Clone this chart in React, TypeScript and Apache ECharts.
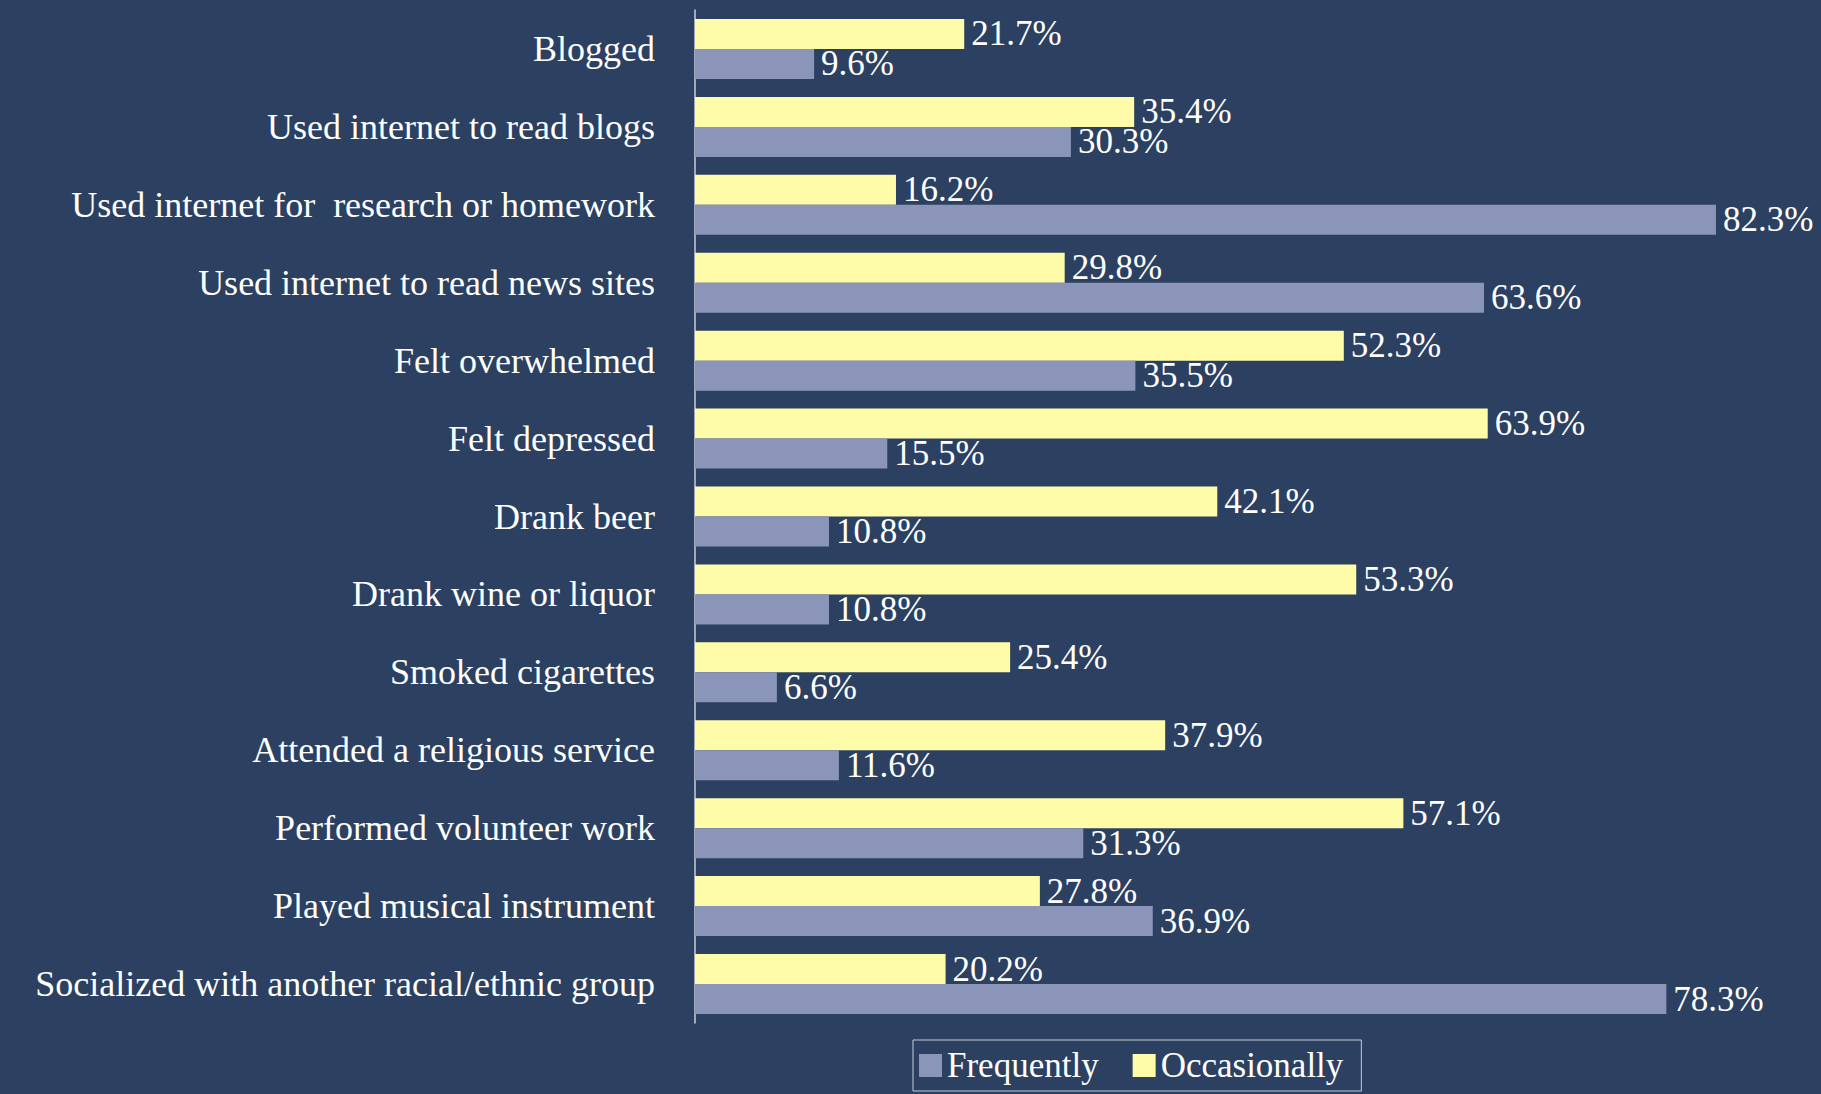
import React, { useEffect, useRef } from "react";
import * as echarts from "echarts";

const categories = [
  "Blogged",
  "Used internet to read blogs",
  "Used internet for  research or homework",
  "Used internet to read news sites",
  "Felt overwhelmed",
  "Felt depressed",
  "Drank beer",
  "Drank wine or liquor",
  "Smoked cigarettes",
  "Attended a religious service",
  "Performed volunteer work",
  "Played musical instrument",
  "Socialized with another racial/ethnic group",
];

const frequently = [9.6, 30.3, 82.3, 63.6, 35.5, 15.5, 10.8, 10.8, 6.6, 11.6, 31.3, 36.9, 78.3];
const occasionally = [21.7, 35.4, 16.2, 29.8, 52.3, 63.9, 42.1, 53.3, 25.4, 37.9, 57.1, 27.8, 20.2];

const seriesNames = ["Frequently", "Occasionally"];

const BG = "#2C4161";
const YELLOW = "#FFFCA9";
const BLUE = "#8A95B9";
const FONT = "'Liberation Serif', 'Times New Roman', serif";

export default function App() {
  const ref = useRef<HTMLDivElement>(null);

  useEffect(() => {
    document.body.style.margin = "0";
    document.body.style.background = BG;
    if (!ref.current) return;
    const chart = echarts.init(ref.current, undefined, { renderer: "svg" });
    const labelCfg = {
      show: true,
      position: "right",
      distance: 7,
      color: "#ffffff",
      fontFamily: FONT,
      fontSize: 35,
      formatter: (p: any) => `${Number(p.value).toFixed(1)}%`,
    };
    chart.setOption({
      animation: false,
      backgroundColor: BG,
      grid: { left: 695, right: 9.5, top: 10, height: 1013, containLabel: false },
      legend: {
        data: seriesNames,
        left: 913,
        top: 1040,
        orient: "horizontal",
        itemWidth: 23,
        itemHeight: 23,
        itemGap: 34,
        padding: [8, 18, 8, 6],
        borderColor: "#c8ccd4",
        borderWidth: 1,
        icon: "rect",
        textStyle: { color: "#ffffff", fontFamily: FONT, fontSize: 35 },
      },
      xAxis: {
        type: "value",
        min: 0,
        max: 90,
        show: false,
      },
      yAxis: {
        type: "category",
        data: categories,
        inverse: true,
        axisLine: { show: true, lineStyle: { color: "#c9cdd6", width: 1.5 } },
        axisTick: { show: false },
        axisLabel: {
          color: "#ffffff",
          fontFamily: FONT,
          fontSize: 36,
          margin: 40,
        },
        splitLine: { show: false },
      },
      series: [
        {
          name: seriesNames[1],
          type: "bar",
          data: occasionally,
          barWidth: 30,
          barGap: "0%",
          itemStyle: { color: YELLOW },
          label: labelCfg,
        },
        {
          name: seriesNames[0],
          type: "bar",
          data: frequently,
          barWidth: 30,
          barGap: "0%",
          itemStyle: { color: BLUE },
          label: labelCfg,
        },
      ],
    });
    return () => chart.dispose();
  }, []);

  return <div ref={ref} style={{ width: 1821, height: 1094 }} />;
}
